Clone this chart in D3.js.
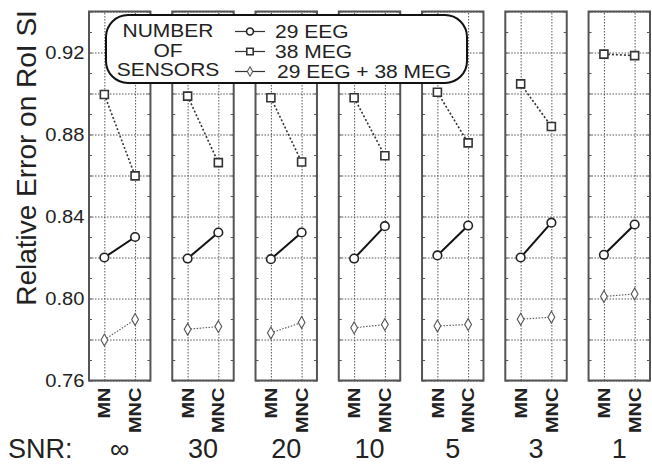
<!DOCTYPE html>
<html>
<head>
<meta charset="utf-8">
<script src="https://cdn.jsdelivr.net/npm/d3@7"></script>
<style>
  body { margin: 0; background: #fff; }
  svg { display: block; font-family: "Liberation Sans", Arial, sans-serif; }
</style>
</head>
<body>
<div id="chart"></div>
<script>
// Data
const snrLabels = ['∞', '30', '20', '10', '5', '3', '1'];
const methods = ['MN', 'MNC'];
const eeg = [[0.820, 0.830], [0.8195, 0.8322], [0.8192, 0.8322], [0.8195, 0.8353], [0.821, 0.8356], [0.820, 0.837], [0.8213, 0.8361]];
const meg = [[0.8995, 0.8598], [0.8987, 0.8663], [0.8979, 0.8666], [0.8979, 0.8696], [0.9006, 0.8759], [0.9047, 0.8839], [0.9192, 0.9185]];
const both = [[0.7798, 0.7898], [0.785, 0.7863], [0.7832, 0.7883], [0.7857, 0.7873], [0.7866, 0.7873], [0.7899, 0.7909], [0.801, 0.8022]];
const yTicks = [0.76, 0.80, 0.84, 0.88, 0.92];
const legendLabels = ['29 EEG', '38 MEG', '29 EEG + 38 MEG'];
const legendTitle = ['NUMBER', 'OF', 'SENSORS'];

const width = 652, height = 465;
const margin = { top: 11.5, left: 89, right: 2, bottom: 84.5 };
const innerHeight = height - margin.top - margin.bottom;

const svg = d3.select('#chart').append('svg')
    .attr('width', width)
    .attr('height', height);

// scales
const xPanel = d3.scaleBand()
    .domain(snrLabels)
    .range([margin.left, width - margin.right])
    .paddingInner(0.262);
const bw = xPanel.bandwidth();
const xIn = d3.scalePoint().domain(methods).range([0, bw]).padding(0.5);
const y = d3.scaleLinear().domain([0.76, 0.94]).range([margin.top + innerHeight, margin.top]);

const series = [
    { values: eeg, symbol: 'circle', stroke: '#111', width: 2, dash: null },
    { values: meg, symbol: 'square', stroke: '#333', width: 1.6, dash: '2,2' },
    { values: both, symbol: 'diamond', stroke: '#555', width: 1.1, dash: '1.5,1.5' }
];

function drawMarker(g, type, x, yy, scale) {
    if (type === 'circle') {
        g.append('circle').attr('cx', x).attr('cy', yy).attr('r', 4.3 * scale)
            .attr('fill', '#fff').attr('stroke', '#222').attr('stroke-width', 1.6);
    } else if (type === 'square') {
        g.append('path').attr('d', d3.symbol(d3.symbolSquare, 64 * scale * scale)())
            .attr('transform', `translate(${x},${yy})`)
            .attr('fill', '#fff').attr('stroke', '#333').attr('stroke-width', 1.6);
    } else {
        g.append('path').attr('d', d3.symbol(d3.symbolDiamond, 40 * scale * scale)())
            .attr('transform', `translate(${x},${yy})`)
            .attr('fill', '#fff').attr('stroke', '#555').attr('stroke-width', 1.1);
    }
}

snrLabels.forEach((snr, i) => {
    const g = svg.append('g').attr('transform', `translate(${xPanel(snr)},0)`);

    // horizontal dotted grid
    g.append('g')
        .attr('class', 'grid')
        .call(d3.axisLeft(y).ticks(9).tickSize(-bw).tickFormat(''))
        .call(a => a.select('.domain').remove())
        .call(a => a.selectAll('line').attr('stroke', '#555').attr('stroke-dasharray', '1.5,1.5'));

    // vertical dotted grid at MN / MNC
    g.append('g')
        .attr('transform', `translate(0,${margin.top + innerHeight})`)
        .call(d3.axisBottom(xIn).tickSize(-innerHeight).tickFormat(''))
        .call(a => a.select('.domain').remove())
        .call(a => a.selectAll('line').attr('stroke', '#555').attr('stroke-dasharray', '1.5,1.5'));

    // small inner ticks on both edges
    g.append('g')
        .call(d3.axisLeft(y).ticks(18).tickSize(-3).tickFormat(''))
        .call(a => a.select('.domain').remove())
        .call(a => a.selectAll('line').attr('stroke', '#555'));
    g.append('g')
        .attr('transform', `translate(${bw},0)`)
        .call(d3.axisRight(y).ticks(18).tickSize(-3).tickFormat(''))
        .call(a => a.select('.domain').remove())
        .call(a => a.selectAll('line').attr('stroke', '#555'));

    // frame
    g.append('rect')
        .attr('x', 0).attr('y', margin.top)
        .attr('width', bw).attr('height', innerHeight)
        .attr('fill', 'none').attr('stroke', '#555').attr('stroke-width', 2);

    // series
    series.forEach(s => {
        const vals = s.values[i];
        g.append('path')
            .attr('d', d3.line()(methods.map((m, j) => [xIn(m), y(vals[j])])))
            .attr('fill', 'none')
            .attr('stroke', s.stroke)
            .attr('stroke-width', s.width)
            .attr('stroke-dasharray', s.dash);
        methods.forEach((m, j) => drawMarker(g, s.symbol, xIn(m), y(vals[j]), 1));
    });

    // method labels
    methods.forEach(m => {
        g.append('text')
            .attr('transform', `translate(${xIn(m)},${margin.top + innerHeight + 7}) rotate(-90) scale(1,0.85)`)
            .attr('text-anchor', 'end')
            .attr('dy', '0.36em')
            .style('font-size', '20px')
            .style('font-weight', 'bold')
            .attr('fill', '#222')
            .text(m);
    });

    // SNR value
    svg.append('text')
        .attr('x', xPanel(snr) + bw / 2)
        .attr('y', 458)
        .attr('text-anchor', 'middle')
        .style('font-size', '27px')
        .attr('fill', '#222')
        .text(snr);
});

// y axis labels
svg.append('g')
    .attr('transform', `translate(${margin.left},0)`)
    .call(d3.axisLeft(y).tickValues(yTicks).tickSize(0).tickPadding(4).tickFormat(d3.format('.2f')))
    .call(a => a.select('.domain').remove())
    .call(a => a.selectAll('text')
        .style('font-size', '18px')
        .attr('fill', '#222')
        .attr('font-family', '"Liberation Sans", Arial, sans-serif')
        .attr('transform', 'scale(1.12,1)'));

svg.append('text')
    .attr('transform', `translate(36,158) rotate(-90)`)
    .attr('text-anchor', 'middle')
    .style('font-size', '28px')
    .attr('fill', '#222')
    .text('Relative Error on RoI SI');

svg.append('text')
    .attr('x', 8).attr('y', 458)
    .style('font-size', '27px')
    .attr('fill', '#222')
    .text('SNR:');

// legend
const legend = svg.append('g');
legend.append('rect')
    .attr('x', 106).attr('y', 15)
    .attr('width', 361).attr('height', 68)
    .attr('rx', 22).attr('ry', 22)
    .attr('fill', '#fff').attr('stroke', '#111').attr('stroke-width', 2);

legendTitle.forEach((t, k) => {
    legend.append('text')
        .attr('transform', `translate(168,${37.3 + k * 19.4}) scale(1.2,1)`)
        .attr('text-anchor', 'middle')
        .style('font-size', '17.5px')
        .attr('fill', '#222')
        .text(t);
});

legendLabels.forEach((t, k) => {
    const ly = 31.5 + k * 20;
    legend.append('line')
        .attr('x1', 235).attr('x2', 265).attr('y1', ly).attr('y2', ly)
        .attr('stroke', '#333').attr('stroke-width', 1.2);
    drawMarker(legend, series[k].symbol, 250, ly, 0.8);
    legend.append('text')
        .attr('transform', `translate(${k === 2 ? 277 : 275},${37.5 + k * 20}) scale(1.2,1)`)
        .style('font-size', '17.5px')
        .attr('fill', '#222')
        .text(t);
});
</script>
</body>
</html>
